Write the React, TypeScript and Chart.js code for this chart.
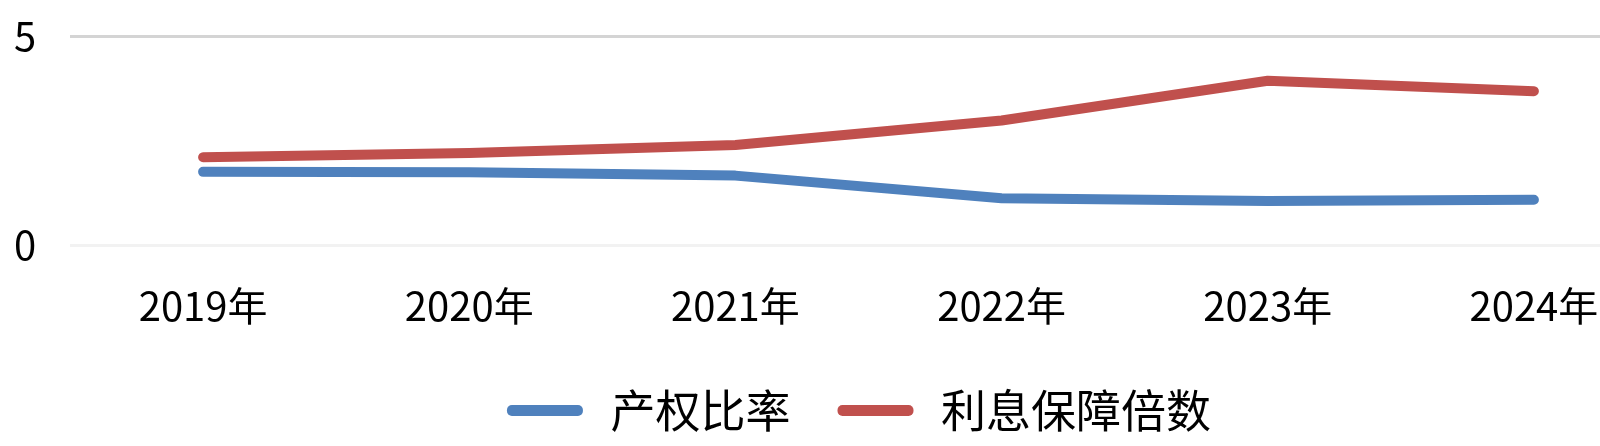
import React, { useEffect, useRef } from "react";
import { Chart, registerables } from "chart.js";

Chart.register(...registerables);

const categories = ["2019年", "2020年", "2021年", "2022年", "2023年", "2024年"];
const equityRatio = [1.75, 1.74, 1.66, 1.12, 1.05, 1.08];
const interestCoverage = [2.1, 2.2, 2.39, 2.98, 3.93, 3.68];
const seriesNames = ["产权比率", "利息保障倍数"];
const yTicks = [0, 5];

const BLUE = "#4f81bd";
const RED = "#c0504d";
const FONT = "'Noto Sans CJK SC', 'Noto Sans', sans-serif";

const shiftLegend = {
  id: "shiftLegend",
  afterLayout(chart: any) {
    if (chart.legend) {
      chart.legend.left += 21;
      chart.legend.right += 21;
    }
  },
};

export default function App() {
  const ref = useRef<HTMLCanvasElement | null>(null);

  useEffect(() => {
    if (!ref.current) return;
    const chart = new Chart(ref.current, {
      type: "line",
      data: {
        labels: categories,
        datasets: [
          {
            label: seriesNames[0],
            data: equityRatio,
            borderColor: BLUE,
            backgroundColor: BLUE,
            borderWidth: 10,
            pointRadius: 0,
            tension: 0,
            borderCapStyle: "round",
            borderJoinStyle: "round",
          },
          {
            label: seriesNames[1],
            data: interestCoverage,
            borderColor: RED,
            backgroundColor: RED,
            borderWidth: 10,
            pointRadius: 0,
            tension: 0,
            borderCapStyle: "round",
            borderJoinStyle: "round",
          },
        ],
      },
      plugins: [shiftLegend],
      options: {
        responsive: false,
        animation: false,
        layout: { padding: { left: 14, top: 36, right: 0, bottom: 3 } },
        plugins: {
          tooltip: { enabled: false },
          legend: {
            position: "bottom",
            labels: {
              boxWidth: 66,
              boxHeight: 1,
              padding: 52,
              color: "#000",
              font: { family: FONT, size: 45 },
              generateLabels: (c: any) =>
                c.data.datasets.map((d: any, i: number) => ({
                  text: " " + d.label,
                  fillStyle: d.borderColor,
                  strokeStyle: d.borderColor,
                  lineWidth: 10,
                  lineJoin: "round",
                  lineCap: "round",
                  datasetIndex: i,
                  hidden: false,
                  fontColor: "#000",
                })),
            },
          },
        },
        scales: {
          x: {
            offset: true,
            grid: { display: false, drawTicks: false },
            border: { display: false },
            afterFit: (axis: any) => {
              axis.height = 91;
            },
            ticks: {
              padding: 37,
              color: "#000",
              maxRotation: 0,
              font: { family: FONT, size: 40 },
            },
          },
          y: {
            min: yTicks[0],
            max: yTicks[yTicks.length - 1],
            afterBuildTicks: (axis: any) => {
              axis.ticks = yTicks.map((v) => ({ value: v }));
            },
            afterFit: (axis: any) => {
              axis.width = 56;
            },
            grid: {
              drawTicks: false,
              lineWidth: 3,
              color: (ctx: any) => (ctx.tick && ctx.tick.value === 0 ? "#f2f2f2" : "#d4d4d4"),
            },
            border: { display: false },
            ticks: {
              padding: 0,
              crossAlign: "far",
              color: "#000",
              font: { family: FONT, size: 40 },
            },
          },
        },
      },
    });
    return () => chart.destroy();
  }, []);

  return (
    <div
      style={{
        position: "fixed",
        left: 0,
        top: 0,
        width: 1600,
        height: 446,
        overflow: "hidden",
        background: "#fff",
      }}
    >
      <canvas ref={ref} width={1667} height={446} style={{ display: "block" }} />
    </div>
  );
}
